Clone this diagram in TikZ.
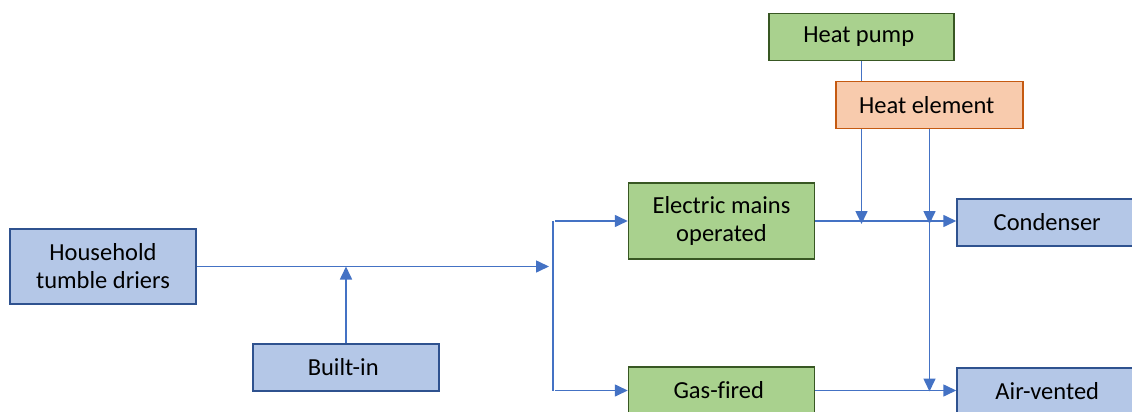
\documentclass[tikz,border=0pt]{standalone}
\usepackage{fontspec}
\setmainfont{Carlito}[Ligatures=NoCommon]
\usetikzlibrary{arrows.meta,positioning}
\usepackage{xcolor}
\definecolor{boxblue}{HTML}{B4C7E7}
\definecolor{edgeblue}{HTML}{2F528F}
\definecolor{boxgreen}{HTML}{A9D18E}
\definecolor{edgegreen}{HTML}{385723}
\definecolor{boxorange}{HTML}{F8CBAD}
\definecolor{edgeorange}{HTML}{C55A11}
\definecolor{lineblue}{HTML}{4472C4}

\begin{document}
\begin{tikzpicture}[x=1pt, y=-1pt,
    >={Triangle[length=13pt, width=12pt]},
    every node/.style={
    rectangle,
    draw=edgeblue,
    line width=1.5pt,
    fill=boxblue,
    minimum width=186pt,
    minimum height=47pt,
    inner sep=2pt,
    align=center,
    font=\fontsize{24.5}{28}\selectfont
}]
    \clip (0, 0) rectangle (1132, 412);

    \node (household_tumble_driers) [minimum height=75pt, shift={(103, 266.5)}]
    {
        Household\\tumble driers
    };
    \node (built_in) [shift={(346, 367.5)}]
    {
        Built-in
    };
    \node (electric_mains_operated) [fill=boxgreen, draw=edgegreen, minimum height=76pt, shift={(721.5, 221)}]
    {
        Electric mains\\operated
    };
    \node (gas_fired) [fill=boxgreen, draw=edgegreen, shift={(721.5, 390.5)}]
    {
        Gas-fired
    };


    \node (heat_pump) [fill=boxgreen, draw=edgegreen, minimum width=185pt, shift={(861.5, 37)}]
    {
        Heat pump
    };
    \node (heat_element) [fill=boxorange, draw=edgeorange, minimum width=187pt, shift={(929.5, 105)}]
    {
        Heat element
    };


    \node (condenser) [shift={(1050, 222.5)}]
    {
        Condenser
    };
    \node (air_vented) [shift={(1050, 391.5)}]
    {
        Air-vented
    };

    \coordinate (split_in) at (549, 266.5);
    \coordinate (split_top) at (553, 221);
    \coordinate (split_bottom) at (553, 390.5);

    \draw[->, lineblue, line width=1.6pt] (household_tumble_driers.east) to (split_in);
    \draw[->, lineblue, line width=1.6pt] (built_in.north) to (built_in.north |- split_in);

    \draw[lineblue, line width=1.6pt] (split_top) to (split_bottom);
    \draw[->, lineblue, line width=1.6pt] ([xshift=2pt]split_top) to (electric_mains_operated.west);
    \draw[->, lineblue, line width=1.6pt] ([xshift=2pt]split_bottom) to (gas_fired.west);

    \draw[->, lineblue, line width=1.6pt] (electric_mains_operated.east) to (electric_mains_operated.east -| condenser.west);
    \draw[->, lineblue, line width=1.6pt] (gas_fired.east) to (gas_fired.east -| air_vented.west);

    \draw[lineblue, line width=1.6pt] (heat_pump.south) to (heat_pump.south |- heat_element.north);
    \draw[->, lineblue, line width=1.6pt] (heat_pump.south |- heat_element.south) to ([yshift=-3pt]heat_pump.south |- electric_mains_operated.east);
    \draw[->, lineblue, line width=1.6pt] (heat_element.south) to ([yshift=-3pt]heat_element.south |- electric_mains_operated.east);
    \draw[->, lineblue, line width=1.6pt] (heat_element.south) to ([yshift=-1pt]heat_element.south |- gas_fired.east);
\end{tikzpicture}
\end{document}
